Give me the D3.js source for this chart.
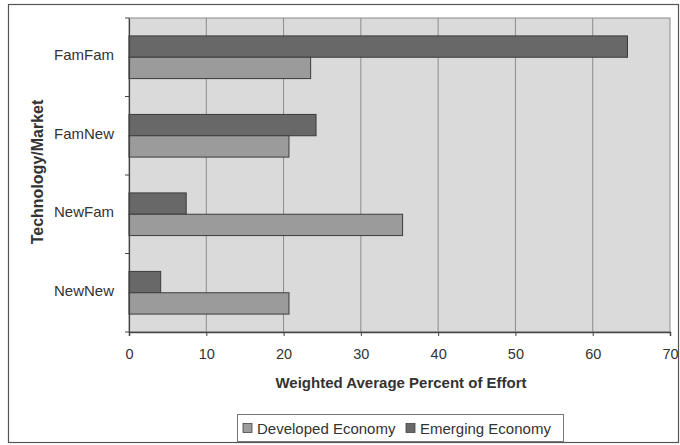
<!DOCTYPE html>
<html>
<head>
<meta charset="utf-8">
<script src="https://cdn.jsdelivr.net/npm/d3@7"></script>
<style>
  html, body { margin: 0; padding: 0; background: #ffffff; }
  svg { display: block; }
  text { font-family: Arial, "Liberation Sans", sans-serif; fill: #333; }
</style>
</head>
<body>
<svg id="chart" width="680" height="445"></svg>
<script>
const categories = ["FamFam", "FamNew", "NewFam", "NewNew"];
const seriesNames = ["Developed Economy", "Emerging Economy"];
const developed = [23.5, 20.7, 35.4, 20.7];
const emerging = [64.5, 24.2, 7.4, 4.1];
const xTicks = [0, 10, 20, 30, 40, 50, 60, 70];
const xTitle = "Weighted Average Percent of Effort";
const yTitle = "Technology/Market";

(function () {
const svg = d3.select("#chart");
const colors = { "Developed Economy": "#9b9b9b", "Emerging Economy": "#686868" };
const FONT = "Arial, 'Liberation Sans', sans-serif";

// outer frame
svg.append("rect").attr("x", 8.5).attr("y", 4.5).attr("width", 670).attr("height", 438)
  .attr("fill", "#fff").attr("stroke", "#555").attr("stroke-width", 1.2);

const pLeft = 129, pRight = 670, pTop = 18, pBottom = 332;
const x = d3.scaleLinear().domain([0, 70]).range([pLeft, pRight]);
const y = d3.scaleBand().domain(categories).range([pTop, pBottom]).padding(0);
const yInner = d3.scaleBand().domain(["Emerging Economy", "Developed Economy"])
  .range([0, y.bandwidth()]).paddingInner(0).paddingOuter(0.84);

// plot area
svg.append("rect").attr("x", pLeft).attr("y", pTop).attr("width", pRight - pLeft).attr("height", pBottom - pTop)
  .attr("fill", "#dadada").attr("stroke", "#8a8a8a").attr("stroke-width", 1);

// gridlines
svg.append("g").selectAll("line").data(xTicks.slice(1, -1)).join("line")
  .attr("x1", d => x(d)).attr("x2", d => x(d)).attr("y1", pTop).attr("y2", pBottom)
  .attr("stroke", "#8c8c8c").attr("stroke-width", 1);

// bars
const rows = categories.map((c, i) => ({ c, vals: [
  { s: "Emerging Economy", v: emerging[i] },
  { s: "Developed Economy", v: developed[i] } ] }));

const g = svg.append("g");
rows.forEach(r => {
  g.append("g").selectAll("rect").data(r.vals).join("rect")
    .attr("x", x(0))
    .attr("y", d => y(r.c) + yInner(d.s))
    .attr("width", d => x(d.v) - x(0))
    .attr("height", yInner.bandwidth())
    .attr("fill", d => colors[d.s])
    .attr("stroke", "#3c3c3c").attr("stroke-width", 1);
});

// x axis
const xAxis = d3.axisBottom(x).tickValues(xTicks).tickSize(4).tickPadding(13).tickFormat(d3.format("d"));
const xa = svg.append("g").attr("transform", `translate(0,${pBottom})`).call(xAxis);
xa.select(".domain").attr("stroke", "#444").attr("stroke-width", 1.5);
xa.selectAll(".tick line").attr("stroke", "#444");
xa.selectAll(".tick text").attr("font-size", 14.5).attr("fill", "#444").attr("font-family", FONT);

// y axis
const yAxis = d3.axisLeft(y).tickSize(0).tickPadding(15);
const ya = svg.append("g").attr("transform", `translate(${pLeft},0)`).call(yAxis);
ya.select(".domain").attr("stroke", "#444").attr("stroke-width", 1.2);
ya.selectAll(".tick text").attr("font-size", 15).attr("fill", "#444")
  .attr("font-family", FONT).attr("dy", "0.2em");
// band boundary ticks
svg.append("g").selectAll("line").data(categories).join("line")
  .attr("x1", pLeft - 4).attr("x2", pLeft).attr("y1", d => y(d)).attr("y2", d => y(d))
  .attr("stroke", "#444");
svg.append("line").attr("x1", pLeft - 4).attr("x2", pLeft).attr("y1", pBottom).attr("y2", pBottom).attr("stroke", "#444");

// axis titles
svg.append("text").attr("x", 401).attr("y", 388).attr("text-anchor", "middle")
  .attr("font-size", 15).attr("font-weight", "bold").attr("fill", "#333").text(xTitle);
svg.append("text").attr("transform", "translate(43,172) rotate(-90)").attr("text-anchor", "middle")
  .attr("font-size", 16).attr("font-weight", "bold").attr("fill", "#333").text(yTitle);

// legend
const lg = svg.append("g");
lg.append("rect").attr("x", 237.5).attr("y", 414.5).attr("width", 326).attr("height", 27)
  .attr("fill", "#fff").attr("stroke", "#777");
const legendX = [243, 406];
seriesNames.forEach((s, i) => {
  lg.append("rect").attr("x", legendX[i]).attr("y", 423.5).attr("width", 9).attr("height", 9)
    .attr("fill", colors[s]).attr("stroke", "#444").attr("stroke-width", 0.8);
  lg.append("text").attr("x", legendX[i] + 14).attr("y", 433.5).attr("font-size", 15)
    .attr("fill", "#333").text(s);
});
})();
</script>
</body>
</html>
